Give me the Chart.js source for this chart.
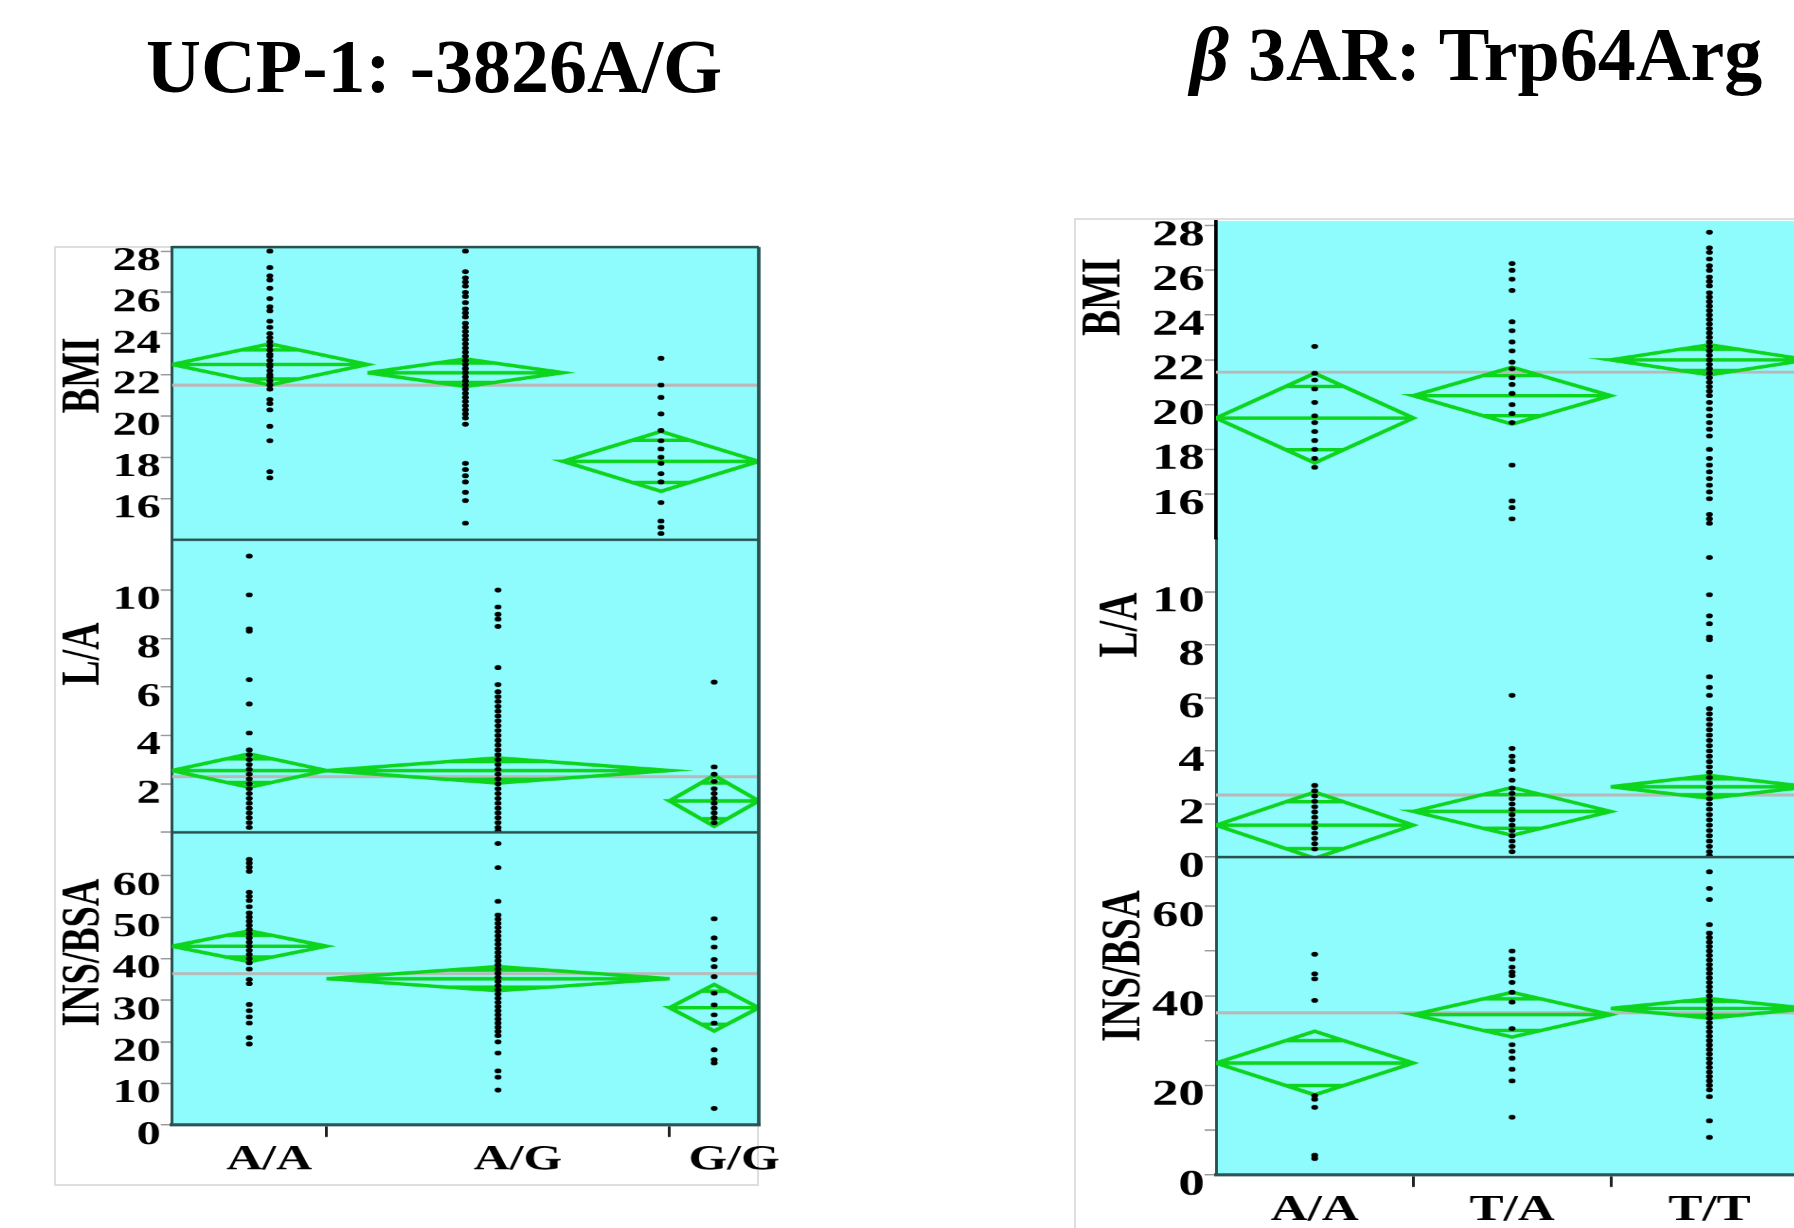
<!DOCTYPE html>
<html lang="en">
<head>
<meta charset="UTF-8">
<title>UCP-1 -3826A/G and β3AR Trp64Arg</title>
<script src="https://cdn.jsdelivr.net/npm/chart.js"></script>
<style>
  html, body { margin: 0; padding: 0; background: #fff; width: 1794px; height: 1228px; overflow: hidden; }
  .title { position: absolute; font: bold 76px "Liberation Serif", "Times New Roman", serif; line-height: 1; white-space: nowrap; color: #000; }
  .frame { position: absolute; border: 2px solid #dedede; box-sizing: border-box; }
  .fig { position: absolute; top: 0; height: 1228px; transform-origin: 0 0; transform: scaleX(1.42); }
</style>
</head>
<body>
<div class="title" style="left:146px; top:28px;">UCP-1: -3826A/G</div>
<div class="title" style="left:1190px; top:16px;"><i>β</i> 3AR: Trp64Arg</div>
<div class="frame" style="left:54px; top:246px; width:705px; height:940px;"></div>
<div class="frame" style="left:1074px; top:218px; width:800px; height:1100px;"></div>
<div class="fig" style="left:54px; width:525px;"><canvas id="chartL"></canvas></div>
<div class="fig" style="left:1074px; width:540px;"><canvas id="chartR"></canvas></div>

<script>
// ---------- UCP-1: -3826A/G ----------
const ucpGroups = ['A/A', 'A/G', 'G/G'];

// relative group weights (diamond widths follow them)
const ucpBmiWeight = [1, 1, 1];
const ucpBmiMean = [22.5, 22.1, 17.8];
const ucpBmiCI = [1.0, 0.67, 1.45];
const ucpBmiAll = 21.5;
const ucpBmiAA = [28.0, 27.2, 26.8, 26.6, 26.2, 25.7, 25.3, 25.1, 24.6, 24.3, 24.0, 23.8, 23.6, 23.4, 23.2, 23.0, 22.9, 22.7, 22.5, 22.4, 22.2, 22.0, 21.9, 21.7, 21.5, 21.3, 20.8, 20.6, 20.3, 19.5, 18.8, 17.3, 17.0];
const ucpBmiAG = [28.0, 27.0, 26.7, 26.5, 26.3, 26.0, 25.8, 25.5, 25.2, 25.0, 24.8, 24.5, 24.3, 24.1, 23.9, 23.7, 23.5, 23.3, 23.1, 22.9, 22.7, 22.5, 22.3, 22.1, 21.9, 21.7, 21.5, 21.3, 21.1, 20.9, 20.7, 20.5, 20.3, 20.1, 19.9, 19.6, 17.7, 17.4, 17.1, 16.8, 16.3, 15.9, 14.8];
const ucpBmiGG = [22.8, 21.5, 20.9, 20.1, 19.3, 18.8, 18.4, 18.0, 17.7, 17.2, 16.8, 15.8, 14.9, 14.6, 14.3];
const ucpBmiTicks = [16, 18, 20, 22, 24, 26, 28];
const ucpBmiLabels = ['16', '18', '20', '22', '24', '26', '28'];

const ucpLaWeight = [45, 100, 26];
const ucpLaMean = [2.55, 2.55, 1.3];
const ucpLaCI = [0.69, 0.52, 1.05];
const ucpLaAll = 2.3;
const ucpLaAA = [11.4, 9.8, 8.4, 8.3, 6.3, 5.3, 4.1, 3.4, 3.2, 3.0, 2.8, 2.6, 2.4, 2.2, 2.0, 1.8, 1.6, 1.4, 1.2, 1.0, 0.8, 0.6, 0.4, 0.2];
const ucpLaAG = [10.0, 9.3, 9.0, 8.8, 8.5, 6.8, 6.1, 5.8, 5.6, 5.4, 5.2, 5.0, 4.8, 4.6, 4.4, 4.2, 4.0, 3.8, 3.6, 3.4, 3.2, 3.0, 2.8, 2.6, 2.4, 2.2, 2.0, 1.8, 1.6, 1.4, 1.2, 1.0, 0.8, 0.6, 0.4, 0.2, 0.05];
const ucpLaGG = [6.2, 2.7, 2.4, 2.1, 1.8, 1.6, 1.4, 1.2, 1.0, 0.8, 0.6, 0.4];
const ucpLaTicks = [0, 2, 4, 6, 8, 10];
const ucpLaLabels = ['', '2', '4', '6', '8', '10'];

const ucpInsWeight = [45, 100, 26];
const ucpInsMean = [43.0, 35.2, 28.2];
const ucpInsCI = [3.7, 2.9, 5.6];
const ucpInsAll = 36.4;
const ucpInsAA = [63.9, 63.0, 62.0, 61.0, 56.0, 55.0, 54.0, 52.5, 51.0, 50.0, 49.0, 48.0, 47.0, 46.0, 45.0, 44.0, 43.0, 42.0, 41.0, 40.0, 39.0, 37.5, 35.0, 34.0, 29.0, 27.5, 26.0, 24.5, 21.0, 19.5];
const ucpInsAG = [67.7, 61.9, 53.8, 50.5, 49.5, 48.5, 47.5, 46.5, 45.5, 44.5, 43.5, 42.5, 41.5, 40.5, 39.5, 38.5, 37.5, 36.5, 35.5, 34.5, 33.5, 32.5, 31.5, 30.5, 29.5, 28.5, 27.5, 26.5, 25.5, 24.5, 23.5, 22.5, 21.5, 20.0, 17.3, 13.0, 11.5, 8.4];
const ucpInsGG = [49.6, 45.0, 42.8, 39.8, 38.1, 35.7, 31.7, 28.9, 26.5, 24.5, 18.1, 15.7, 14.9, 4.0];
const ucpInsTicks = [0, 10, 20, 30, 40, 50, 60];
const ucpInsLabels = ['0', '10', '20', '30', '40', '50', '60'];

// ---------- β3AR: Trp64Arg ----------
const b3Groups = ['A/A', 'T/A', 'T/T'];

const b3BmiWeight = [1, 1, 1];
const b3BmiMean = [19.4, 20.4, 22.0];
const b3BmiCI = [2.0, 1.27, 0.67];
const b3BmiAll = 21.45;
const b3BmiAA = [22.6, 21.4, 21.1, 20.7, 20.1, 19.5, 19.2, 18.8, 18.4, 18.0, 17.6, 17.2];
const b3BmiTA = [26.3, 26.0, 25.6, 25.1, 23.7, 23.3, 22.8, 22.4, 21.9, 21.6, 21.2, 20.9, 20.5, 20.0, 19.6, 19.2, 17.3, 15.7, 15.4, 14.9];
const b3BmiTT = [27.7, 27.0, 26.8, 26.5, 26.2, 26.0, 25.7, 25.5, 25.3, 25.0, 24.8, 24.6, 24.4, 24.2, 24.0, 23.8, 23.6, 23.4, 23.2, 23.0, 22.8, 22.6, 22.4, 22.2, 22.0, 21.8, 21.6, 21.4, 21.2, 21.0, 20.8, 20.6, 20.4, 20.1, 19.8, 19.5, 19.2, 18.9, 18.6, 18.0, 17.6, 17.3, 17.0, 16.7, 16.4, 16.1, 15.8, 15.1, 14.9, 14.7];
const b3BmiTicks = [16, 18, 20, 22, 24, 26, 28];
const b3BmiLabels = ['16', '18', '20', '22', '24', '26', '28'];

const b3LaWeight = [1, 1, 1];
const b3LaMean = [1.2, 1.72, 2.65];
const b3LaCI = [1.25, 0.9, 0.43];
const b3LaAll = 2.34;
const b3LaAA = [2.7, 2.5, 2.3, 2.1, 1.9, 1.7, 1.5, 1.3, 1.1, 0.9, 0.7, 0.5, 0.3];
const b3LaTA = [6.1, 4.1, 3.8, 3.6, 3.3, 2.9, 2.6, 2.4, 2.2, 2.0, 1.8, 1.6, 1.4, 1.2, 1.0, 0.8, 0.6, 0.4, 0.2];
const b3LaTT = [11.3, 9.9, 9.1, 8.8, 8.3, 8.2, 6.8, 6.4, 6.1, 5.6, 5.4, 5.2, 5.0, 4.8, 4.6, 4.4, 4.2, 4.0, 3.8, 3.6, 3.4, 3.2, 3.0, 2.8, 2.6, 2.4, 2.2, 2.0, 1.8, 1.6, 1.4, 1.2, 1.0, 0.8, 0.6, 0.4, 0.2, 0.05];
const b3LaTicks = [0, 2, 4, 6, 8, 10];
const b3LaLabels = ['0', '2', '4', '6', '8', '10'];

const b3InsWeight = [1, 1, 1];
const b3InsMean = [25.0, 35.8, 37.2];
const b3InsCI = [7.1, 5.0, 2.2];
const b3InsAll = 36.2;
const b3InsAA = [49.3, 44.9, 43.8, 39.0, 17.7, 16.9, 15.1, 4.4, 3.7];
const b3InsTA = [50.0, 48.2, 46.4, 45.3, 44.5, 43.0, 40.8, 38.6, 32.7, 29.1, 27.6, 26.1, 23.6, 21.0, 12.9];
const b3InsTT = [67.7, 64.0, 61.5, 55.9, 54.0, 53.0, 52.0, 51.0, 50.0, 49.0, 48.0, 47.0, 46.0, 45.0, 44.0, 43.0, 42.0, 41.0, 40.0, 39.0, 38.0, 37.0, 36.0, 35.0, 34.0, 33.0, 32.0, 31.0, 30.0, 29.0, 28.0, 27.0, 26.0, 25.0, 24.0, 23.0, 22.0, 21.0, 20.0, 19.0, 17.5, 12.1, 8.4];
const b3InsTicks = [0, 10, 20, 30, 40, 50, 60];
const b3InsLabels = ['0', '', '20', '', '40', '', '60'];

const GREEN = '#0dd41c';
const GREY = '#b9b9b9';
const CYAN = '#8efcfc';
const SERIF = '"Liberation Serif", "Times New Roman", serif';

Chart.defaults.font.family = SERIF;
Chart.defaults.color = '#000';

// group boundaries on a 0..1 x axis from the weights
function groupSpans(weight) {
    const total = weight.reduce((a, b) => a + b, 0);
    let start = 0;
    return weight.map(w => {
        const x0 = start / total;
        start += w;
        const x1 = start / total;
        return { x0: x0, x1: x1, xc: (x0 + x1) / 2 };
    });
}

// mean diamonds, overlap marks, grand mean line and raw points of one panel
function panelDatasets(yID, weight, mean, ci, all, points) {
    const spans = groupSpans(weight);
    const sets = [];
    sets.push({
        yAxisID: yID, data: [{ x: 0, y: all }, { x: 1, y: all }],
        showLine: true, borderColor: GREY, borderWidth: 3, pointRadius: 0, order: 3
    });
    const dots = [];
    spans.forEach((s, i) => {
        const m = mean[i], h = ci[i];
        const o = h * Math.SQRT1_2;
        const ow = (s.x1 - s.x0) * (1 - Math.SQRT1_2) / 2;
        sets.push({
            yAxisID: yID, showLine: true, borderColor: GREEN, borderWidth: 3.5,
            borderJoinStyle: 'miter', pointRadius: 0, order: 2,
            data: [
                { x: s.x0, y: m }, { x: s.xc, y: m + h }, { x: s.x1, y: m }, { x: s.xc, y: m - h },
                { x: s.x0, y: m }, { x: s.x1, y: m }, { x: s.xc, y: null },
                { x: s.xc - ow, y: m + o }, { x: s.xc + ow, y: m + o }, { x: s.xc, y: null },
                { x: s.xc - ow, y: m - o }, { x: s.xc + ow, y: m - o }
            ]
        });
        points[i].forEach(v => dots.push({ x: s.xc, y: v }));
    });
    sets.push({
        yAxisID: yID, data: dots, pointRadius: 2.4, pointBorderWidth: 0,
        pointBackgroundColor: '#000', order: 1
    });
    return sets;
}

function yAxis(min, max, tickVals, tickLabels, weight, axisW, fontSize, borderColor, borderWidth) {
    return {
        type: 'linear', position: 'left', stack: 'panels', stackWeight: 1, weight: weight,
        min: min, max: max,
        afterBuildTicks: s => { s.ticks = tickVals.map(v => ({ value: v })); },
        afterFit: s => { s.width = axisW; s.paddingTop = 0; s.paddingBottom = 0; },
        ticks: {
            autoSkip: false, padding: 0, labelOffset: 10,
            callback: (v, i) => tickLabels[i],
            font: { size: fontSize, weight: 'bold' }
        },
        grid: { drawOnChartArea: false, drawTicks: true, tickLength: 8, tickColor: '#9a9a9a', lineWidth: 1.5 },
        border: { display: true, color: borderColor, width: borderWidth }
    };
}

function xAxis(groups, weight, fontSize, labelOffset) {
    const spans = groupSpans(weight);
    return {
        type: 'linear', position: 'bottom', min: 0, max: 1,
        afterBuildTicks: s => {
            const t = [];
            spans.forEach((sp, i) => {
                t.push({ value: sp.xc, name: groups[i] });
                if (i > 0) t.push({ value: sp.x0, edge: true });
            });
            s.ticks = t.sort((a, b) => a.value - b.value);
        },
        afterFit: s => { s.height = 50; s.paddingLeft = 0; s.paddingRight = 0; },
        ticks: {
            autoSkip: false, maxRotation: 0, padding: 2, labelOffset: labelOffset,
            callback: (v, i, ticks) => ticks[i].name || '',
            font: { size: fontSize, weight: 'bold' }
        },
        grid: {
            drawOnChartArea: false, drawTicks: true, tickLength: 12, lineWidth: 2,
            tickColor: ctx => (ctx.tick && ctx.tick.edge) ? '#222' : 'rgba(0,0,0,0)'
        },
        border: { display: true, color: '#2d5555', width: 3 }
    };
}

// cyan plot background and the dark panel separators
const plotFrame = {
    id: 'plotFrame',
    beforeDraw(chart, args, opts) {
        const a = chart.chartArea, ctx = chart.ctx;
        ctx.save();
        ctx.fillStyle = CYAN;
        ctx.fillRect(a.left, a.top, a.right - a.left, a.bottom - a.top);
        ctx.restore();
    },
    afterDatasetsDraw(chart, args, opts) {
        const a = chart.chartArea, ctx = chart.ctx;
        ctx.save();
        ctx.strokeStyle = '#2b5050';
        ctx.lineWidth = 2.5;
        ctx.beginPath();
        if (opts.box) {
            ctx.moveTo(a.left, a.top); ctx.lineTo(a.right, a.top);
            ctx.moveTo(a.right, a.top); ctx.lineTo(a.right, a.bottom);
        }
        opts.splits.forEach(id => {
            const y = chart.scales[id].bottom;
            ctx.moveTo(a.left, y); ctx.lineTo(a.right, y);
        });
        ctx.stroke();
        ctx.restore();
    }
};

// rotated panel names left of the tick labels
const panelTitles = {
    id: 'panelTitles',
    afterDraw(chart, args, opts) {
        const ctx = chart.ctx;
        ctx.save();
        ctx.fillStyle = '#000';
        ctx.font = 'bold ' + opts.size + 'px ' + SERIF;
        ctx.textAlign = 'center';
        ctx.textBaseline = 'middle';
        opts.items.forEach(it => {
            const s = chart.scales[it.id];
            ctx.save();
            ctx.translate(it.x, (s.top + s.bottom) / 2 + it.dy);
            ctx.rotate(-Math.PI / 2);
            ctx.fillText(it.text, 0, 0);
            ctx.restore();
        });
        ctx.restore();
    }
};

function makeChart(canvasId, datasets, scales, padding, frameOpts, titleOpts) {
    return new Chart(document.getElementById(canvasId), {
        type: 'scatter',
        data: { datasets: datasets },
        options: {
            responsive: true,
            maintainAspectRatio: false,
            devicePixelRatio: 1.5,
            animation: false,
            events: [],
            layout: { padding: padding },
            scales: scales,
            plugins: {
                legend: { display: false },
                tooltip: { enabled: false },
                plotFrame: frameOpts,
                panelTitles: titleOpts
            }
        },
        plugins: [plotFrame, panelTitles]
    });
}

makeChart('chartL',
    [].concat(
        panelDatasets('yBmi', ucpBmiWeight, ucpBmiMean, ucpBmiCI, ucpBmiAll, [ucpBmiAA, ucpBmiAG, ucpBmiGG]),
        panelDatasets('yLa', ucpLaWeight, ucpLaMean, ucpLaCI, ucpLaAll, [ucpLaAA, ucpLaAG, ucpLaGG]),
        panelDatasets('yIns', ucpInsWeight, ucpInsMean, ucpInsCI, ucpInsAll, [ucpInsAA, ucpInsAG, ucpInsGG])
    ),
    {
        x: xAxis(ucpGroups, ucpInsWeight, 35, 14),
        yIns: yAxis(0, 70.4, ucpInsTicks, ucpInsLabels, 1, 83.1, 34, '#2b5050', 2),
        yLa: yAxis(0, 12.08, ucpLaTicks, ucpLaLabels, 2, 83.1, 34, '#2b5050', 2),
        yBmi: yAxis(14, 28.2, ucpBmiTicks, ucpBmiLabels, 3, 83.1, 34, '#2b5050', 2)
    },
    { left: 0, right: 29, top: 247, bottom: 53 },
    { box: true, splits: ['yBmi', 'yLa'] },
    {
        size: 38, items: [
            { id: 'yBmi', text: 'BMI', x: 21.8, dy: -18 },
            { id: 'yLa', text: 'L/A', x: 21.8, dy: -32 },
            { id: 'yIns', text: 'INS/BSA', x: 21.8, dy: -26 }
        ]
    }
);

makeChart('chartR',
    [].concat(
        panelDatasets('yBmi', b3BmiWeight, b3BmiMean, b3BmiCI, b3BmiAll, [b3BmiAA, b3BmiTA, b3BmiTT]),
        panelDatasets('yLa', b3LaWeight, b3LaMean, b3LaCI, b3LaAll, [b3LaAA, b3LaTA, b3LaTT]),
        panelDatasets('yIns', b3InsWeight, b3InsMean, b3InsCI, b3InsAll, [b3InsAA, b3InsTA, b3InsTT])
    ),
    {
        x: xAxis(b3Groups, b3InsWeight, 36, 0),
        yIns: yAxis(0, 71, b3InsTicks, b3InsLabels, 1, 100, 37, '#2b5050', 2),
        yLa: yAxis(0, 12, b3LaTicks, b3LaLabels, 2, 100, 37, '#2b5050', 2),
        yBmi: yAxis(14, 28.2, b3BmiTicks, b3BmiLabels, 3, 100, 37, '#000', 2.5)
    },
    { left: 0, right: 23, top: 221, bottom: 3 },
    { box: false, splits: ['yLa'] },
    {
        size: 39, items: [
            { id: 'yBmi', text: 'BMI', x: 21.8, dy: -83 },
            { id: 'yLa', text: 'L/A', x: 33.8, dy: -73 },
            { id: 'yIns', text: 'INS/BSA', x: 35.9, dy: -50 }
        ]
    }
);
</script>
</body>
</html>
